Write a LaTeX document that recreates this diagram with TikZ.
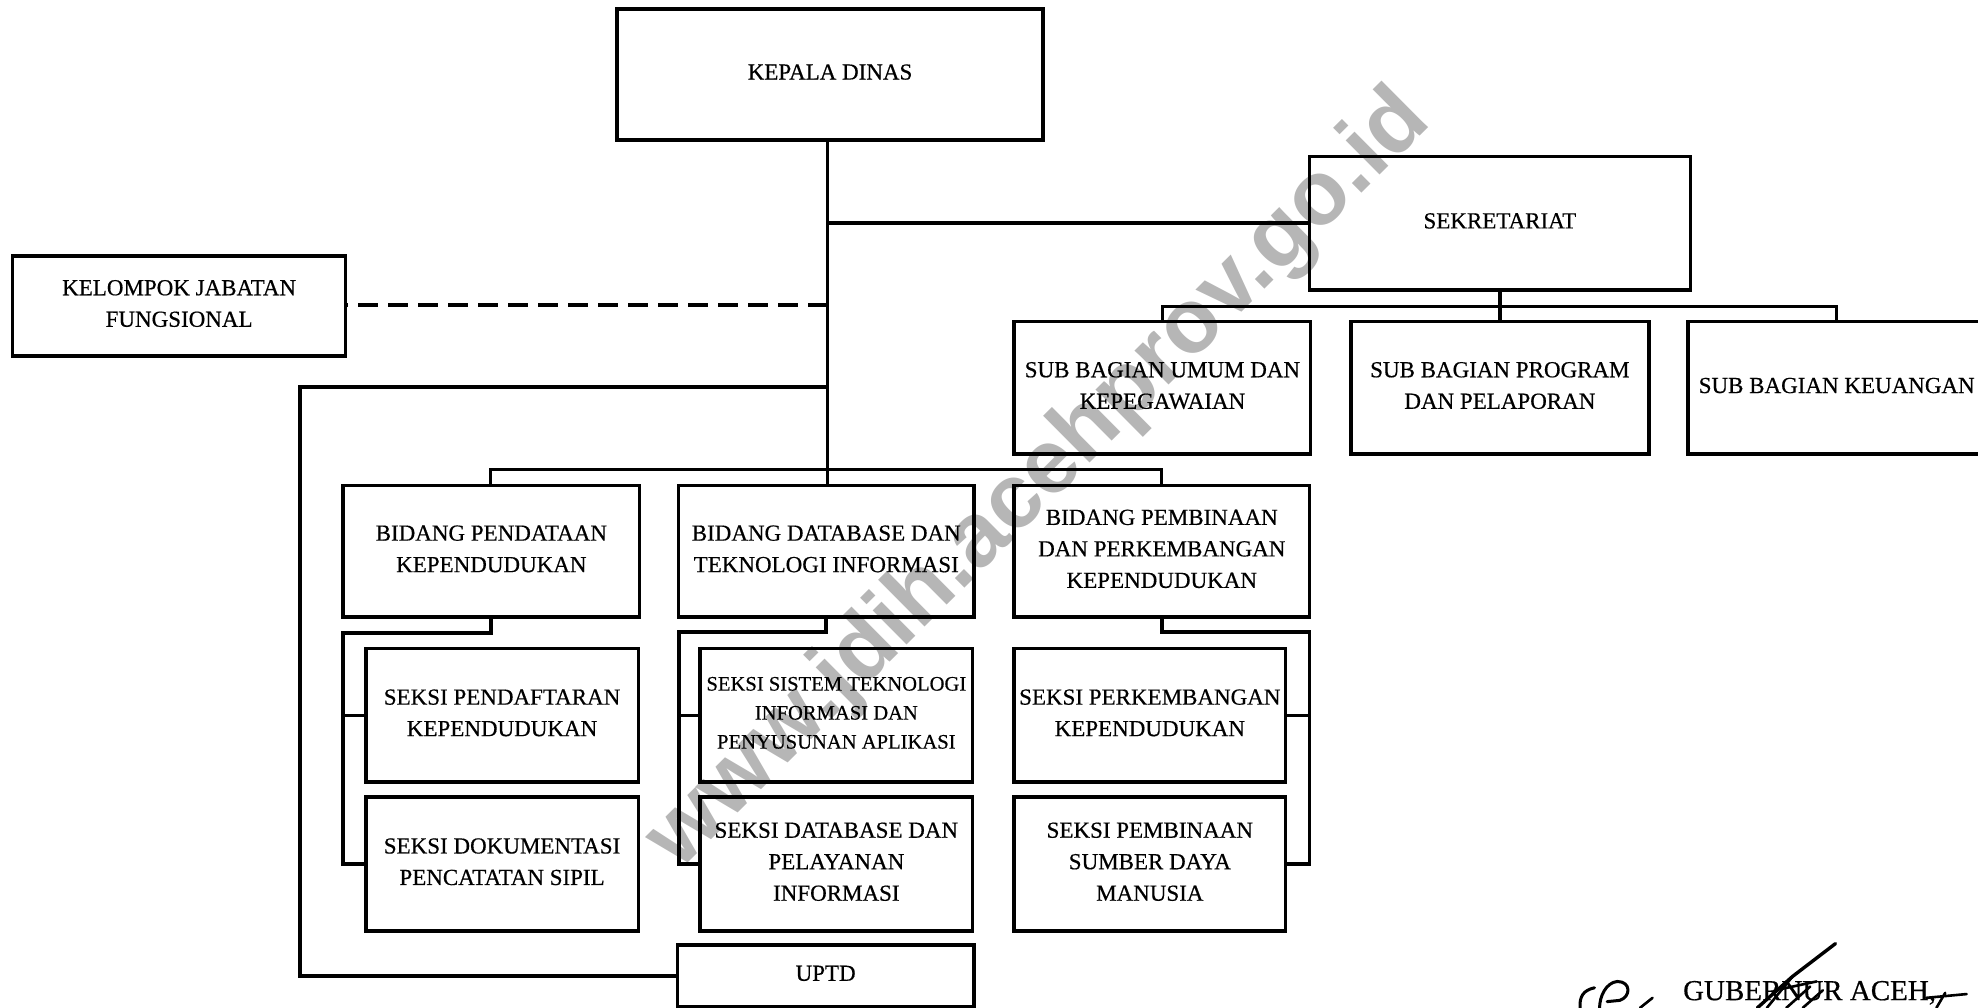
\documentclass[tikz,border=0pt]{standalone}
\usepackage{fontspec}
\setmainfont[FakeBold=0.5]{Liberation Serif}
\newfontfamily\wmfont{Liberation Sans}
\usetikzlibrary{calc}
\definecolor{wmgrey}{RGB}{182,182,182}
\tikzset{
  orgbox/.style={draw=black,line width=3.6pt,inner sep=0pt,outer sep=0pt,align=center,
     font=\fontsize{23}{31.5}\selectfont},
  smallbox/.style={orgbox,font=\fontsize{20.6}{29}\selectfont},
  link/.style={draw=black,line width=3.8pt,line join=miter},
  thinlink/.style={link,line width=3.2pt},
  sig/.style={draw=black,line width=2.6pt,line cap=round,line join=round}
}
\newcommand{\orgnode}[7][orgbox]{%
  \pgfmathsetmacro{\bw}{(#5-#3)*1.2615}%
  \pgfmathsetmacro{\bh}{(#6-#4)*1.2615}%
  \node[#1,minimum width=\bw pt,minimum height=\bh pt] (#2) at ({(#3+#5)/2},{(#4+#6)/2}) {#7\rule[-5pt]{0pt}{5pt}};%
}
\begin{document}
\begin{tikzpicture}[x=1.2615pt,y=-1.2615pt]
\useasboundingbox (0,0) rectangle (1568,799);
\clip (0,0) rectangle (1568,799);
% watermark
\node[text=wmgrey,rotate=44.8,inner sep=0pt,font=\fontsize{91}{91}\selectfont\wmfont\bfseries] (wm) at (824,381) {www.jdih.acehprov.go.id};
% boxes
\orgnode{kepala}{489}{7}{827}{111}{KEPALA DINAS}
\orgnode{sek}{1038}{124}{1340}{230}{SEKRETARIAT}
\orgnode{kjf}{10}{203}{274}{282}{KELOMPOK JABATAN\\FUNGSIONAL}
\orgnode{subA}{804}{255}{1039}{360}{SUB BAGIAN UMUM DAN\\KEPEGAWAIAN}
\orgnode{subB}{1071}{255}{1307}{360}{SUB BAGIAN PROGRAM\\DAN PELAPORAN}
\orgnode{subC}{1338}{255}{1574}{360}{SUB BAGIAN KEUANGAN}
\orgnode{bidA}{272}{385}{507}{489}{BIDANG PENDATAAN\\KEPENDUDUKAN}
\orgnode{bidB}{538}{385}{772}{489}{BIDANG DATABASE DAN\\TEKNOLOGI INFORMASI}
\orgnode{bidC}{804}{385}{1038}{489}{BIDANG PEMBINAAN\\DAN PERKEMBANGAN\\KEPENDUDUKAN}
\orgnode{sAa}{290}{514}{506}{620}{SEKSI PENDAFTARAN\\KEPENDUDUKAN}
\orgnode{sAb}{290}{632}{506}{738}{SEKSI DOKUMENTASI\\PENCATATAN SIPIL}
\orgnode[smallbox]{sBa}{555}{514}{771}{620}{SEKSI SISTEM TEKNOLOGI\\INFORMASI DAN\\PENYUSUNAN APLIKASI}
\orgnode{sBb}{555}{632}{771}{738}{SEKSI DATABASE DAN\\PELAYANAN\\INFORMASI}
\orgnode{sCa}{804}{514}{1019}{620}{SEKSI PERKEMBANGAN\\KEPENDUDUKAN}
\orgnode{sCb}{804}{632}{1019}{738}{SEKSI PEMBINAAN\\SUMBER DAYA\\MANUSIA}
\orgnode{uptd}{537}{749}{772}{798}{UPTD}
% junctions
\coordinate (trunk) at (656,177);
\coordinate (dashj) at (656,242);
\coordinate (loopj) at (656,307);
\coordinate (loopa) at (238,307);
\coordinate (bidbar) at (656,372);
\coordinate (subbar) at (1189,243);
\coordinate (railA) at (272,502);
\coordinate (railB) at (538,501);
\coordinate (railC) at (1038,501);
\coordinate (stemA) at (389,0);
\coordinate (stemB) at (655,0);
\coordinate (stemC) at (921,0);
% main lines
\draw[link] (trunk |- kepala.south) -- (trunk |- bidB.north);
\draw[link] (trunk) -- (trunk -| sek.west);
\draw[link,dash pattern=on 20pt off 10pt] (dashj) -- (kjf.east |- dashj);
\draw[link] (loopj) -- (loopa) -- (loopa |- uptd.west) -- (uptd.west);
\draw[thinlink] (stemA |- bidA.north) -- (stemA |- bidbar) -- (bidC.north |- bidbar) -- (bidC.north);
\draw[link] (sek.south -| subbar) -- (subB.north -| subbar);
\draw[thinlink] (subA.north) -- (subA.north |- subbar) -- (subC.north |- subbar) -- (subC.north);
% section rails
\draw[link] (stemA |- bidA.south) -- (stemA |- railA) -- (railA) -- (railA |- sAb.west) -- (sAb.west);
\draw[thinlink] (railA |- sAa.west) -- (sAa.west);
\draw[link] (stemB |- bidB.south) -- (stemB |- railB) -- (railB) -- (railB |- sBb.west) -- (sBb.west);
\draw[thinlink] (railB |- sBa.west) -- (sBa.west);
\draw[link] (stemC |- bidC.south) -- (stemC |- railC) -- (railC) -- (railC |- sCb.east) -- (sCb.east);
\draw[thinlink] (railC |- sCa.east) -- (sCa.east);
% signature block
\node[inner sep=0pt,font=\fontsize{29}{32}\selectfont] (gub) at (1434.5,787) {GUBERNUR ACEH,};
\draw[sig,line width=3.4pt] (1455,748) -- (1421,774) -- (1393,799);
\draw[sig] (1421,774) -- (1400.6,799) (1435,782) -- (1416,799) (1445,785) -- (1429,799);
\draw[sig] (1412,784) -- (1440,778);
\draw[sig,line width=3pt] (1252.5,799) .. controls (1252,790) and (1255,785) .. (1264,783)
  (1268,799) .. controls (1268,790) and (1273,779) .. (1282,778) .. controls (1293,778) and (1293,790) .. (1284,793) -- (1274,794);
\draw[sig] (1300,799) -- (1310,791);
\draw[sig] (1527,791) -- (1559,788) (1542,787) -- (1535,799);
\end{tikzpicture}
\end{document}
